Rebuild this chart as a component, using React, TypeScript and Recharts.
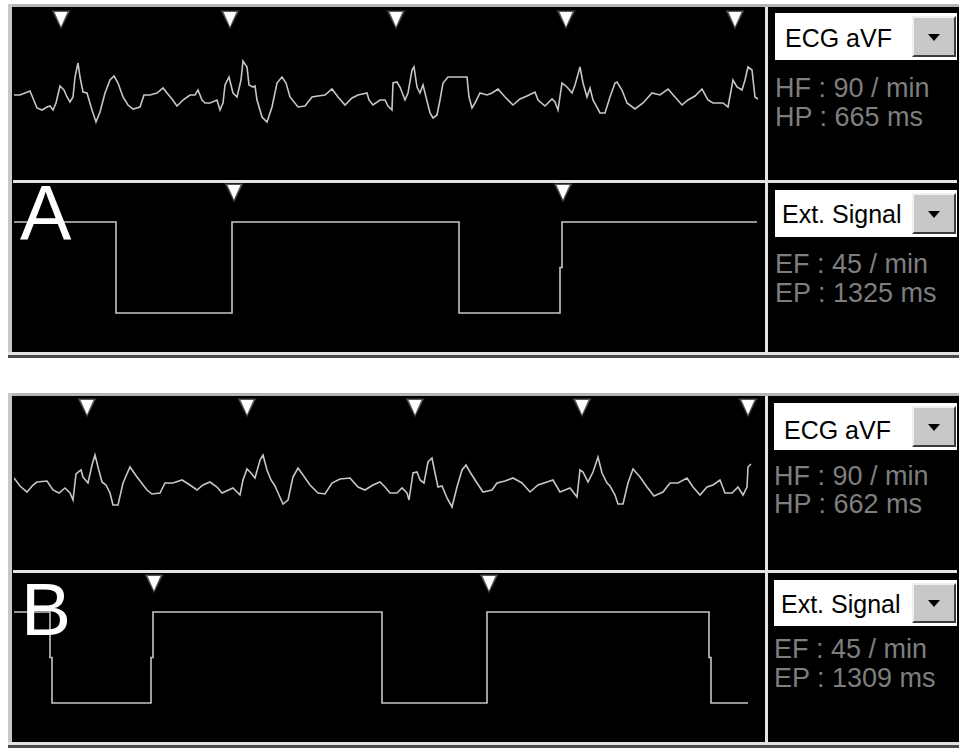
import React from 'react';
import { ComposedChart, Line, Scatter, XAxis, YAxis } from 'recharts';

// ---- Data (time in samples @ 250 Hz, amplitude in arbitrary units, up = positive) ----
const ECG_A: [number, number][] = [
  [0,5],[6,5],[11,7],[16,9],[23,-8],[28,-10],[33,-7],[36,-6],[39,-10],[42,-3],[46,14],[50,10],[53,3],[56,-2],[59,3],[61,23],[64,37],[66,23],[69,8],[73,7],[78,-10],[82,-22],[86,-12],[91,7],[96,20],[100,24],[104,17],[109,3],[114,-5],[119,-9],[126,-7],[130,5],[136,5],[143,7],[149,12],[153,7],[158,1],[163,-6],[169,0],[176,5],[181,5],[184,10],[188,0],[191,-3],[196,-3],[203,0],[206,-10],[209,-3],[211,15],[215,23],[219,7],[223,3],[227,20],[229,39],[233,33],[235,15],[239,13],[241,14],[243,0],[248,-17],[253,-22],[258,-7],[263,17],[268,23],[272,17],[276,3],[284,-7],[291,-6],[298,3],[304,4],[311,5],[318,11],[324,3],[331,-5],[338,2],[344,5],[353,7],[355,0],[359,-5],[366,0],[371,0],[374,-6],[378,-10],[379,17],[383,18],[386,13],[391,0],[394,7],[398,30],[400,33],[403,13],[406,7],[409,15],[412,3],[416,-13],[419,-18],[423,-15],[426,0],[429,17],[434,23],[453,23],[455,3],[458,-8],[461,-3],[466,7],[473,5],[478,7],[484,11],[491,3],[499,-5],[506,1],[513,4],[521,8],[524,0],[531,-6],[538,1],[541,-2],[544,-10],[548,17],[553,13],[558,7],[561,15],[566,33],[569,17],[573,3],[576,12],[579,0],[586,-13],[591,-13],[596,3],[601,17],[603,18],[608,10],[613,-3],[621,-9],[629,-3],[638,7],[646,5],[654,11],[661,3],[668,-5],[674,0],[681,4],[688,11],[694,0],[699,-3],[709,-3],[714,-7],[719,20],[723,13],[728,10],[731,20],[734,33],[738,30],[741,3],[744,1],
];
const ECG_B: [number, number][] = [
  [0,7],[6,-1],[13,-7],[19,0],[23,3],[33,4],[39,-5],[45,-8],[51,-3],[56,-8],[59,-15],[62,11],[67,15],[69,8],[74,2],[78,20],[81,30],[84,18],[88,3],[92,0],[96,-8],[99,-20],[104,-20],[109,2],[116,18],[123,8],[133,-5],[138,-9],[146,-8],[151,2],[159,2],[168,5],[176,0],[183,-5],[189,0],[196,3],[203,-2],[208,-8],[219,-3],[226,-10],[229,5],[233,16],[237,12],[241,7],[246,25],[249,30],[253,15],[257,5],[261,-1],[265,-10],[269,-19],[274,-15],[279,8],[284,17],[289,10],[296,0],[304,-8],[311,-9],[318,2],[326,6],[336,7],[344,-2],[351,-5],[359,0],[366,3],[371,-2],[376,-8],[383,-8],[388,-3],[393,-8],[395,-15],[399,12],[403,13],[406,5],[410,2],[414,23],[418,27],[421,12],[424,-2],[428,-1],[433,-13],[438,-22],[443,-2],[448,15],[452,20],[456,13],[463,2],[469,-7],[478,-5],[483,2],[491,4],[499,7],[508,2],[516,-7],[524,0],[533,3],[539,5],[546,-7],[556,-3],[563,-12],[566,15],[569,13],[574,3],[579,13],[584,28],[588,12],[593,2],[596,-1],[601,-10],[604,-19],[609,-19],[614,2],[619,16],[626,8],[633,-2],[640,-11],[649,-7],[656,2],[664,2],[673,7],[679,-2],[686,-10],[693,-2],[699,0],[706,5],[711,-8],[718,-8],[724,-2],[729,-10],[733,-2],[734,18],[737,21],
];
const EXT_A: [number, number][] = [
  [0,1],[102,1],[102,0],[218,0],[218,1],[445,1],[445,0],[546,0],[546,0.5],[548,0.5],[548,1],[743,1],
];
const EXT_B: [number, number][] = [
  [0,1],[36,1],[36,0.5],[38,0.5],[38,0],[137,0],[137,0.5],[139,0.5],[139,1],[368,1],[368,0],[473,0],[473,1],[695,1],[695,0.5],[697,0.5],[697,0],[734,0],
];
const MARKS_ECG_A = [47, 216, 382, 552, 721];
const MARKS_ECG_B = [73, 233, 401, 568, 734];
const MARKS_EXT_A = [220, 549];
const MARKS_EXT_B = [140, 475];

const PANEL_A_TEXT = { letter: 'A', lead: 'ECG aVF', hf: 'HF : 90 / min', hp: 'HP : 665 ms', ext: 'Ext. Signal', ef: 'EF : 45 / min', ep: 'EP : 1325 ms' };
const PANEL_B_TEXT = { letter: 'B', lead: 'ECG aVF', hf: 'HF : 90 / min', hp: 'HP : 662 ms', ext: 'Ext. Signal', ef: 'EF : 45 / min', ep: 'EP : 1309 ms' };

const FONT = '"Liberation Sans", Arial, Helvetica, sans-serif';
const TRACE = '#c6c6c6';

const Marker = (props: any) => {
  const { cx, cy } = props;
  if (cx == null || cy == null) return <g />;
  return (
    <g>
      <polygon points={`${cx - 10},${cy - 9} ${cx + 10},${cy - 9} ${cx},${cy + 11}`} fill="#ffffff" opacity={0.12} />
      <polygon points={`${cx - 8.5},${cy - 8} ${cx + 8.5},${cy - 8} ${cx},${cy + 9.5}`} fill="#ffffff" opacity={0.25} />
      <polygon points={`${cx - 6.5},${cy - 7} ${cx + 6.5},${cy - 7} ${cx},${cy + 7.5}`} fill="#ffffff" />
    </g>
  );
};

function Strip(props: {
  top: number; height: number; data: [number, number][]; marks: number[]; markLevel: number; yDomain: [number, number];
}) {
  const { top, height, data, marks, markLevel, yDomain } = props;
  const lineData = data.map(([s, a]) => ({ s, a }));
  const markData = marks.map((s) => ({ s, a: markLevel }));
  return (
    <div style={{ position: 'absolute', left: 14, top }}>
      <ComposedChart width={744} height={height} margin={{ top: 0, right: 0, bottom: 0, left: 0 }}>
        <XAxis dataKey="s" type="number" domain={[0, 744]} hide allowDataOverflow />
        <YAxis dataKey="a" type="number" domain={yDomain} hide allowDataOverflow />
        <Line data={lineData} dataKey="a" type="linear" stroke={TRACE} strokeWidth={1.6} dot={false} activeDot={false} isAnimationActive={false} />
        <Scatter data={markData} dataKey="a" shape={Marker} isAnimationActive={false} />
      </ComposedChart>
    </div>
  );
}

function Box(props: { left: number; top: number; height: number }) {
  const { left, top, height } = props;
  return (
    <div style={{ position: 'absolute', left, top, width: 959 - left - 2, height, background: '#ffffff' }}>
      <div style={{
        position: 'absolute', right: 1, top: 3, width: 44, height: height - 6, background: '#c8c8c8',
        borderTop: '2px solid #f0f0f0', borderLeft: '2px solid #f0f0f0', borderRight: '2px solid #3a3a3a', borderBottom: '2px solid #3a3a3a', boxSizing: 'border-box',
      }}>
        <div style={{
          position: 'absolute', left: '50%', top: '50%', marginLeft: -6, marginTop: -3, width: 0, height: 0,
          borderLeft: '6px solid transparent', borderRight: '6px solid transparent', borderTop: '7px solid #000',
        }} />
      </div>
    </div>
  );
}

function Panel(props: {
  y0: number; ecgTop: number; ecgH: number; extTop: number; extH: number; bottom: number;
  ecg: [number, number][]; ext: [number, number][]; mEcg: number[]; mEcgLevel: number; mExt: number[]; mExtLevel: number;
  ecgDomain: [number, number]; extDomain: [number, number];
}) {
  const p = props;
  const blackTop = p.y0 + 3;
  return (
    <>
      <div style={{ position: 'absolute', left: 8, top: p.y0, width: 951, height: 3, background: '#b4b4b4' }} />
      <div style={{ position: 'absolute', left: 8, top: p.y0, width: 4, height: p.bottom - p.y0, background: '#c8c8c8' }} />
      <div style={{ position: 'absolute', left: 12, top: blackTop, width: 947, height: p.bottom - blackTop, background: '#000' }} />
      <div style={{ position: 'absolute', left: 8, top: p.bottom, width: 951, height: 3, background: '#e2e2e2' }} />
      <div style={{ position: 'absolute', left: 8, top: p.bottom + 3, width: 951, height: 3, background: '#4a4a4a' }} />
      <div style={{ position: 'absolute', left: 13, top: p.ecgTop + p.ecgH + 1, width: 944, height: 3, background: '#e4e4e4' }} />
      <div style={{ position: 'absolute', left: 765, top: blackTop, width: 3, height: p.bottom - blackTop, background: '#e4e4e4' }} />
      <Strip top={p.ecgTop} height={p.ecgH} data={p.ecg} marks={p.mEcg} markLevel={p.mEcgLevel} yDomain={p.ecgDomain} />
      <Strip top={p.extTop} height={p.extH} data={p.ext} marks={p.mExt} markLevel={p.mExtLevel} yDomain={p.extDomain} />
    </>
  );
}

export default function App() {
  const gray = '#7e7e7e';
  return (
    <div style={{ position: 'absolute', left: 0, top: 0, width: 959, height: 748, background: '#fff', overflow: 'hidden', fontFamily: FONT }}>
      <Panel y0={4} ecgTop={7} ecgH={172} extTop={183} extH={169} bottom={352}
        ecg={ECG_A} ext={EXT_A} mEcg={MARKS_ECG_A} mEcgLevel={81} mExt={MARKS_EXT_A} mExtLevel={1.33}
        ecgDomain={[-79, 93]} extDomain={[-0.43, 1.43]} />
      <Panel y0={393} ecgTop={396} ecgH={173} extTop={573} extH={169} bottom={742}
        ecg={ECG_B} ext={EXT_B} mEcg={MARKS_ECG_B} mEcgLevel={78} mExt={MARKS_EXT_B} mExtLevel={1.32}
        ecgDomain={[-84, 89]} extDomain={[-0.43, 1.43]} />
      <Box left={775} top={13} height={47} />
      <Box left={775} top={190} height={47} />
      <Box left={774} top={403} height={47} />
      <Box left={774} top={580} height={46} />
      <svg width={959} height={748} style={{ position: 'absolute', left: 0, top: 0, pointerEvents: 'none' }}>
        <g fontFamily={FONT}>
          <text x={20} y={240} fontSize={77} fill="#fff">{PANEL_A_TEXT.letter}</text>
          <text x={785} y={47} fontSize={25} fill="#000">{PANEL_A_TEXT.lead}</text>
          <text x={775} y={97} fontSize={27} fill={gray}>{PANEL_A_TEXT.hf}</text>
          <text x={775} y={126} fontSize={27} fill={gray}>{PANEL_A_TEXT.hp}</text>
          <text x={782} y={223} fontSize={25} fill="#000">{PANEL_A_TEXT.ext}</text>
          <text x={775} y={273} fontSize={27} fill={gray}>{PANEL_A_TEXT.ef}</text>
          <text x={775} y={302} fontSize={27} fill={gray}>{PANEL_A_TEXT.ep}</text>

          <text x={21} y={635} fontSize={75} fill="#fff">{PANEL_B_TEXT.letter}</text>
          <text x={784} y={439} fontSize={25} fill="#000">{PANEL_B_TEXT.lead}</text>
          <text x={774} y={485} fontSize={27} fill={gray}>{PANEL_B_TEXT.hf}</text>
          <text x={774} y={513} fontSize={27} fill={gray}>{PANEL_B_TEXT.hp}</text>
          <text x={781} y={613} fontSize={25} fill="#000">{PANEL_B_TEXT.ext}</text>
          <text x={774} y={658} fontSize={27} fill={gray}>{PANEL_B_TEXT.ef}</text>
          <text x={774} y={687} fontSize={27} fill={gray}>{PANEL_B_TEXT.ep}</text>
        </g>
      </svg>
    </div>
  );
}
